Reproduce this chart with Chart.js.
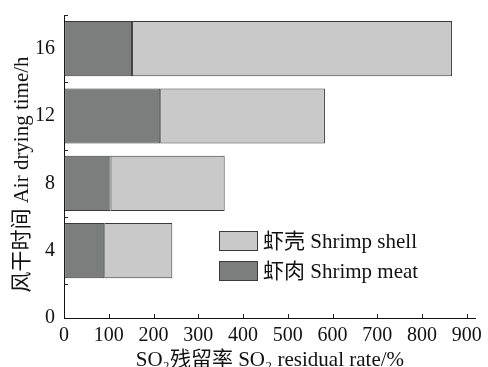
<!DOCTYPE html>
<html>
<head>
<meta charset="utf-8">
<script src="https://cdn.jsdelivr.net/npm/chart.js@4.4.1/dist/chart.umd.min.js"></script>
<style>
  html, body { margin: 0; padding: 0; background: #ffffff; }
  #wrap { width: 488px; height: 367px; }
</style>
</head>
<body>
<div id="wrap"><canvas id="c" width="488" height="367"></canvas></div>
<script>
// Air drying time (h) and SO2 residual rate (%) for shrimp meat and shell
const hours = [4, 8, 12, 16];
const meatRate = [90, 104, 215, 152];
const shellRate = [152, 255, 368, 715];

const xTickValues = [0, 100, 200, 300, 400, 500, 600, 700, 800, 900];
const yLabelValues = [0, 4, 8, 12, 16];
const yMarkValues = [2, 6, 10, 14, 18];

const meatName = '虾肉 Shrimp meat';
const shellName = '虾壳 Shrimp shell';
const xTitle = 'SO₂残留率 SO₂ residual rate/%';
const yTitle = '风干时间 Air drying time/h';

const FONT = '"Liberation Serif", "Noto Sans CJK SC", serif';
const INK = '#111111';
const MEAT_FILL = '#7c7e7d';
const SHELL_FILL = '#c9c9c9';
const EDGE = '#3a3a3a';

// inward tick marks on both axes, the vertical axis title and the boxed legend
const axisExtras = {
  id: 'axisExtras',
  afterDraw(chart) {
    const { ctx, chartArea: a, scales: { x, y } } = chart;
    ctx.save();
    ctx.strokeStyle = '#222222';
    ctx.lineWidth = 1;
    ctx.beginPath();
    xTickValues.slice(1).forEach(v => {
      const px = Math.round(x.getPixelForValue(v)) + 0.5;
      ctx.moveTo(px, a.bottom);
      ctx.lineTo(px, a.bottom - 4);
    });
    yMarkValues.forEach(v => {
      const py = Math.round(y.getPixelForValue(v)) + 0.5;
      ctx.moveTo(a.left, py);
      ctx.lineTo(a.left + 4, py);
    });
    ctx.stroke();

    // vertical axis title, set a little below the middle of the plot
    ctx.save();
    ctx.translate(22, (a.top + a.bottom) / 2 + 8);
    ctx.rotate(-Math.PI / 2);
    ctx.font = '21px ' + FONT;
    ctx.fillStyle = INK;
    ctx.textAlign = 'center';
    ctx.textBaseline = 'middle';
    ctx.fillText(yTitle, 0, 0);
    ctx.restore();

    const items = [
      { name: shellName, fill: SHELL_FILL },
      { name: meatName, fill: MEAT_FILL }
    ];
    const boxX = 219, boxY = 231, boxW = 39, boxH = 20, rowGap = 30;
    ctx.font = '21px ' + FONT;
    ctx.textBaseline = 'middle';
    ctx.textAlign = 'left';
    items.forEach((it, i) => {
      const top = boxY + i * rowGap;
      ctx.fillStyle = it.fill;
      ctx.fillRect(boxX, top, boxW, boxH);
      ctx.strokeStyle = EDGE;
      ctx.strokeRect(boxX + 0.5, top + 0.5, boxW - 1, boxH - 1);
      ctx.fillStyle = INK;
      ctx.fillText(it.name, boxX + boxW + 5, top + boxH / 2 + 1);
    });
    ctx.restore();
  }
};

new Chart(document.getElementById('c'), {
  type: 'bar',
  data: {
    datasets: [
      {
        label: meatName,
        data: hours.map((h, i) => ({ x: meatRate[i], y: h })),
        backgroundColor: MEAT_FILL,
        borderColor: EDGE,
        borderWidth: 1,
        borderSkipped: false
      },
      {
        label: shellName,
        data: hours.map((h, i) => ({ x: shellRate[i], y: h })),
        backgroundColor: SHELL_FILL,
        borderColor: EDGE,
        borderWidth: 1,
        borderSkipped: false
      }
    ]
  },
  options: {
    indexAxis: 'y',
    responsive: false,
    animation: false,
    devicePixelRatio: 1,
    categoryPercentage: 1,
    barPercentage: 0.82,
    layout: { padding: { top: 15, right: 8, left: 0, bottom: 0 } },
    plugins: { legend: { display: false }, tooltip: { enabled: false } },
    scales: {
      x: {
        type: 'linear',
        stacked: true,
        min: 0,
        max: 920,
        afterBuildTicks: s => { s.ticks = xTickValues.map(v => ({ value: v })); },
        afterFit: s => { s.height = 49; },
        grid: { drawOnChartArea: false, drawTicks: false },
        border: { display: true, color: '#111111', width: 1 },
        ticks: { color: INK, padding: 6, maxRotation: 0, font: { family: FONT, size: 20 } },
        title: {
          display: true, text: xTitle, color: INK,
          font: { family: FONT, size: 21 },
          padding: { top: 0, bottom: -6 }
        }
      },
      y: {
        type: 'linear',
        stacked: true,
        offset: false,
        min: 0,
        max: 18,
        afterBuildTicks: s => { s.ticks = yLabelValues.map(v => ({ value: v })); },
        afterFit: s => { s.width = 64; s.paddingTop = 0; s.paddingBottom = 0; },
        grid: { drawOnChartArea: false, drawTicks: false, offset: false },
        border: { display: true, color: '#111111', width: 1 },
        ticks: { color: INK, padding: 9, font: { family: FONT, size: 20 } },
        title: { display: false }
      }
    }
  },
  plugins: [axisExtras]
});
</script>
</body>
</html>
